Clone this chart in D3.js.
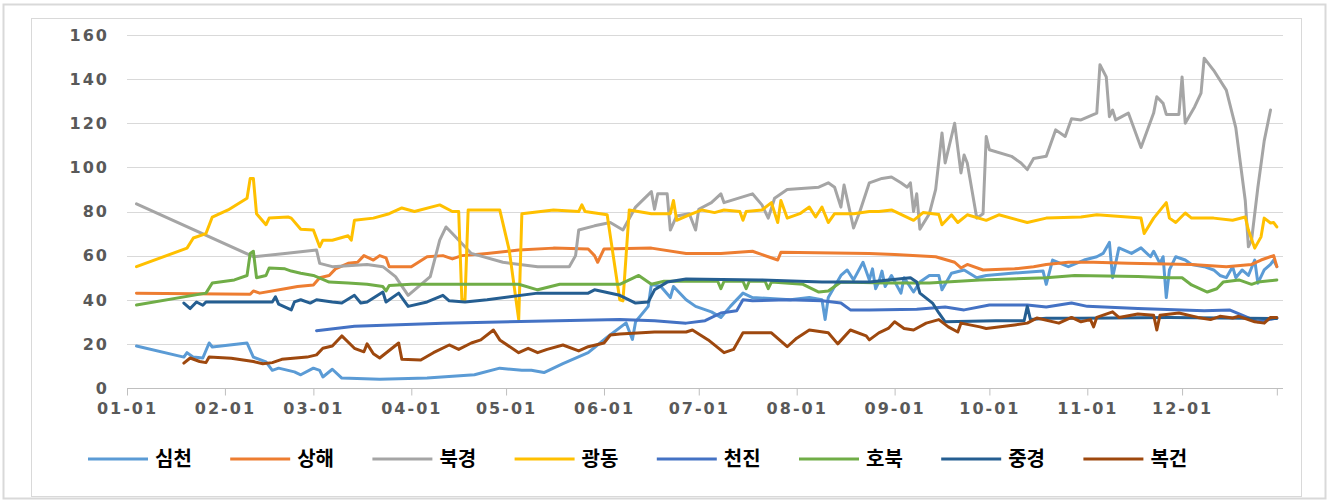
<!DOCTYPE html>
<html>
<head>
<meta charset="utf-8">
<script src="https://cdn.jsdelivr.net/npm/d3@7"></script>
<style>
  body { margin: 0; background: #fff; }
  svg { display: block; }
</style>
</head>
<body>
<div id="chart"></div>
<script>
// legend / series names and excel default colours
var names = ["심천", "상해", "북경", "광동", "천진", "호북", "중경", "복건"];
var colors = ["#5B9BD5", "#ED7D31", "#A5A5A5", "#FFC000", "#4472C4", "#70AD47", "#255E91", "#9E480E"];
var yTicks = [0, 20, 40, 60, 80, 100, 120, 140, 160];
var xTickMonths = ["01-01", "02-01", "03-01", "04-01", "05-01", "06-01", "07-01", "08-01", "09-01", "10-01", "11-01", "12-01"];

// each point: [day of year (0 = 01-01), value]
var shenzhen = [[3,19],[18,14],[19,16],[21,14],[24,13.6],[26,20.4],[27,18.6],[38,20.4],[40,14],[44,11.8],[46,8],[48,9],[53,7.3],[55,6],[59,9],[61,8],[62,5],[65,8.5],[68,4.5],[80,4],[95,4.5],[110,6],[118,9],[125,8],[128,8],[132,7],[138,11],[146,16],[152,23],[158,29.5],[160,22],[161,30],[165,37],[166,47],[169,46],[172,41],[173,46],[177,40],[180,37],[185,34.5],[188,32],[191,37],[195,43],[198,41],[210,40],[216,41],[220,40],[221,31],[222,41],[226,51],[228,53.5],[230,49],[233,57],[235,49],[236,54],[237,45],[238,48],[239,53],[240,46],[242,51],[245,43],[246,50],[249,43.5],[251,48],[254,51],[257,51],[258,44.5],[261,52],[265,53.5],[269,50],[272,51],[280,52],[290,53],[291,47],[293,58],[298,55],[303,58],[307,59.5],[309,61],[311,66],[312,50],[314,63.5],[318,61],[321,63.5],[324,59.5],[325,62],[327,56.5],[328,59.5],[329,41],[330,53.5],[332,59.5],[335,58],[337,56],[341,55],[344,53.5],[346,51],[348,50],[350,55],[351,50],[353,53.5],[355,51],[357,58],[358,47.5],[360,53.5],[362,56],[363,58],[364,55]];
var shanghai = [[3,43],[39,42.5],[40,44],[42,43],[50,45],[54,46],[59,46.7],[61,50],[64,51],[66,54],[70,56.5],[73,57],[75,60],[78,58],[80,60],[82,59],[83,55],[90,55],[95,59.5],[100,60],[103,58.5],[106,60],[114,61],[124,62.5],[135,63.4],[146,63],[148,60],[149,57],[151,63],[166,63.4],[177,61],[188,61],[198,62],[206,58],[207,61.5],[235,61],[243,60.5],[256,59.5],[262,57],[264,54.4],[266,56],[271,53.5],[281,54],[287,55],[291,56],[298,57],[306,57],[317,56.5],[337,56],[348,55],[356,56],[359,58],[363,60],[364,55]];
var beijing = [[3,83.5],[40,59.5],[50,61],[60,62.5],[61,56.5],[65,55],[76,56],[81,55],[85,50.5],[89,42],[96,50.5],[99,67],[101,73],[103,70],[109,61],[119,57],[130,55],[140,55],[142,60],[143,71.6],[148,73.5],[153,75],[157,71.6],[161,82],[166,89],[167,81],[168,88],[171,88],[172,71.6],[174,78],[178,79],[180,71.6],[181,81],[185,84],[188,88],[189,84],[198,88],[201,83],[203,77],[205,86],[209,90],[219,91],[222,93],[224,91],[226,82],[227,92],[230,72.5],[232,80],[235,93],[239,95],[242,95.6],[245,93],[247,91],[248,93],[249,80],[250,88],[251,72],[254,79],[256,90],[258,115.6],[259,102],[262,120],[264,97.5],[265,105.6],[266,102],[269,77],[271,79],[272,114],[273,108],[280,105],[283,102],[285,99],[287,104],[291,105],[292,109],[294,117],[297,114],[299,122],[302,121.5],[307,124.6],[308,146.5],[310,141],[311,123],[312,126],[313,121.5],[317,124.6],[321,109],[325,124.6],[326,132],[328,129],[329,124],[333,124],[334,141],[335,120],[338,127.5],[340,133.7],[341,149.5],[344,144],[348,135],[351,118],[354,85],[355,64],[356,67],[358,91],[360,112],[362,126]];
var guangdong = [[3,55],[19,63.4],[21,68],[25,70],[27,77.5],[32,80.7],[38,86],[39,95],[40,95],[41,79],[44,74],[45,77],[51,77.5],[52,77],[55,72],[59,71.6],[61,64],[62,67],[65,67],[70,69],[71,67],[72,76],[78,77],[83,79],[87,81.6],[91,80],[99,83],[103,80],[105,80],[106,40],[107,40],[108,80.7],[118,80.7],[121,62.5],[124,31],[125,79],[135,80.7],[143,80],[144,83],[145,80],[152,78.5],[156,40],[157,39.5],[159,80.7],[166,79],[172,79],[173,85],[174,76],[178,78.5],[182,80.7],[186,79.5],[189,80.7],[194,80],[195,76],[196,80],[201,80.7],[204,84],[206,75],[207,85],[209,77],[213,79],[216,82],[218,77.5],[220,82],[222,75],[224,79],[230,79],[235,80],[238,80],[242,80.7],[249,76],[252,79.5],[257,78.6],[258,74],[261,78.5],[263,75],[266,78.5],[272,76],[276,78.5],[285,75],[291,77],[302,77.5],[307,78.5],[321,77],[322,70],[325,77],[329,84],[330,77],[332,75],[335,79.3],[337,77],[344,77],[350,76],[354,77.5],[355,71.6],[357,63.4],[359,68.5],[360,77],[362,74.8],[363,75],[364,73]];
var tianjin = [[60,26],[72,28],[100,29.4],[156,31],[167,30.5],[177,29.4],[183,30.5],[188,34],[193,35],[195,40],[198,39.5],[209,40],[220,39.5],[226,38.5],[229,35.4],[235,35.4],[250,35.7],[259,36.7],[265,35.4],[273,37.6],[285,37.6],[291,36.7],[299,38.5],[304,37],[320,36],[341,35],[349,35.4],[353,33],[358,30],[364,31.7]];
var hubei = [[3,37.6],[25,43],[27,47.6],[34,49],[38,51],[39,61],[40,62],[41,50],[44,51],[45,54.4],[50,54],[52,53],[55,52],[59,51],[64,48],[70,47.6],[76,47],[81,46],[82,44],[83,46.5],[90,47],[102,47],[124,47],[130,44.5],[137,47],[156,47],[162,51],[166,47],[170,48.4],[187,48.4],[188,45],[189,48.4],[195,48.4],[196,45],[197,48.4],[202,48.4],[203,45],[204,48],[214,47],[219,43.5],[222,44],[226,48],[240,47.6],[254,47.6],[270,49],[291,50],[300,51],[320,50.5],[330,50],[334,50],[337,46.7],[342,43.5],[345,45],[347,48],[352,49],[356,47],[358,48],[364,49]];
var chongqing = [[18,38.5],[20,36],[22,39],[24,37.5],[25,39],[46,39],[47,41.3],[48,38],[52,35.4],[53,39],[55,40],[58,38.5],[60,40],[65,39],[68,38.5],[72,42],[74,38.5],[76,39],[81,43.5],[82,39],[86,43],[89,37],[95,39],[100,42],[102,39.5],[107,39],[114,40],[130,43],[146,43],[148,44.5],[156,42],[161,38.5],[165,39],[167,44.5],[171,48],[177,49.4],[200,49],[220,48],[235,48],[248,50],[250,48],[251,43],[255,38.5],[257,34],[259,30],[275,30.5],[284,30.5],[285,37],[286,31],[291,31.6],[302,31.6],[330,32],[364,31.5]];
var fujian = [[18,11.3],[20,13.6],[23,12],[25,11.5],[26,14],[33,13.5],[40,12],[43,11],[46,11.5],[49,13],[57,14],[60,15],[62,18],[65,19],[68,23.6],[72,18],[75,16.4],[76,20],[78,15.5],[80,13.6],[83,17],[86,20.4],[87,13],[93,12.7],[97,16],[102,19.5],[105,17.5],[109,20.4],[112,21.8],[116,26.3],[118,21.8],[124,16],[127,18],[130,16],[133,17.5],[138,19.5],[143,16.8],[146,18.7],[151,20.4],[153,24],[156,24.5],[167,25.4],[177,25.4],[179,26.3],[184,21.8],[189,16],[192,17.5],[195,25],[204,25],[209,18.7],[212,22.6],[216,26.3],[222,25],[225,20],[229,26.3],[234,23.6],[235,21.8],[238,25],[241,27],[243,30],[246,27],[249,26.3],[253,29.4],[257,31],[260,27.7],[263,25.4],[264,29.4],[270,27.7],[272,27],[281,28.6],[285,29.4],[288,31.7],[295,29.4],[299,32],[302,30],[305,31],[306,27.7],[307,32],[312,34.5],[314,32],[320,33.5],[325,33],[326,26.3],[327,33],[333,34],[339,32],[343,31],[346,32.5],[350,31.7],[352,32.5],[357,30],[360,29.4],[362,32],[364,32]];

var series = [shenzhen, shanghai, beijing, guangdong, tianjin, hubei, chongqing, fujian];

var width = 1329, height = 500;
var year0 = Date.UTC(2019, 0, 1);
function toDate(day) { return new Date(year0 + day * 864e5); }

var svg = d3.select("#chart").append("svg")
    .attr("width", width)
    .attr("height", height);

// outer + inner frames
svg.append("rect")
    .attr("x", 3.5).attr("y", 4.5)
    .attr("width", 1322).attr("height", 494)
    .attr("fill", "#fff").attr("stroke", "#d9d9d9").attr("stroke-width", 2);
svg.append("rect")
    .attr("x", 31.5).attr("y", 18.5)
    .attr("width", 1270).attr("height", 478)
    .attr("fill", "#fff").attr("stroke", "#d9d9d9").attr("stroke-width", 1);

var x = d3.scaleUtc()
    .domain([new Date(year0), new Date(Date.UTC(2020, 0, 1))])
    .range([127, 1280]);
var y = d3.scaleLinear()
    .domain([0, 160])
    .range([388, 35]);

// gridlines
svg.append("g")
    .selectAll("line")
    .data(yTicks.slice(1))
    .enter().append("line")
    .attr("x1", 127).attr("x2", 1283)
    .attr("y1", function(d) { return Math.round(y(d)) + 0.5; })
    .attr("y2", function(d) { return Math.round(y(d)) + 0.5; })
    .attr("stroke", "#d9d9d9");

// y axis labels
svg.append("g")
    .selectAll("text")
    .data(yTicks)
    .enter().append("text")
    .attr("x", 109)
    .attr("y", function(d) { return y(d); })
    .attr("dy", "0.36em")
    .attr("text-anchor", "end")
    .attr("font-family", "DejaVu Sans, sans-serif")
    .attr("font-size", 16)
    .attr("font-weight", "bold")
    .attr("letter-spacing", 2)
    .attr("fill", "#595959")
    .text(function(d) { return d; });

// x axis
var tickDates = xTickMonths.map(function(m) { return new Date(Date.UTC(2019, +m.slice(0, 2) - 1, 1)); });
var xAxis = d3.axisBottom(x)
    .tickValues(tickDates.concat([toDate(364)]))
    .tickSize(7)
    .tickFormat(function(d, i) { return i < xTickMonths.length ? xTickMonths[i] : ""; });

var gx = svg.append("g")
    .attr("transform", "translate(0," + (Math.round(y(0)) + 0.5) + ")")
    .call(xAxis);
gx.select(".domain").attr("stroke", "#bfbfbf").attr("d", "M127,0H1283");
gx.selectAll(".tick line").attr("stroke", "#bfbfbf");
gx.selectAll(".tick text")
    .attr("y", 14)
    .attr("dy", "0.71em")
    .attr("font-family", "DejaVu Sans, sans-serif")
    .attr("font-size", 16)
    .attr("font-weight", "bold")
    .attr("letter-spacing", 2)
    .attr("fill", "#595959");

// lines
var line = d3.line()
    .x(function(d) { return x(toDate(d[0])); })
    .y(function(d) { return y(d[1]); })
    .curve(d3.curveLinear);

svg.append("g")
    .selectAll("path")
    .data(series)
    .enter().append("path")
    .attr("d", line)
    .attr("fill", "none")
    .attr("stroke", function(d, i) { return colors[i]; })
    .attr("stroke-width", 3)
    .attr("stroke-linejoin", "round")
    .attr("stroke-linecap", "round");

/* legend */
var legend = svg.append("g")
    .attr("transform", "translate(88,459)");

var item = legend.selectAll("g")
    .data(names)
    .enter().append("g")
    .attr("transform", function(d, i) { return "translate(" + (i * 142.2) + ",0)"; });

item.append("line")
    .attr("x1", 0).attr("x2", 60)
    .attr("stroke", function(d, i) { return colors[i]; })
    .attr("stroke-width", 3);

item.append("text")
    .attr("x", 67)
    .attr("dy", "0.36em")
    .attr("font-family", "Noto Sans CJK KR, sans-serif")
    .attr("font-size", 20)
    .attr("font-weight", "bold")
    .attr("fill", "#000")
    .text(function(d) { return d; });
/* end legend */
</script>
</body>
</html>
